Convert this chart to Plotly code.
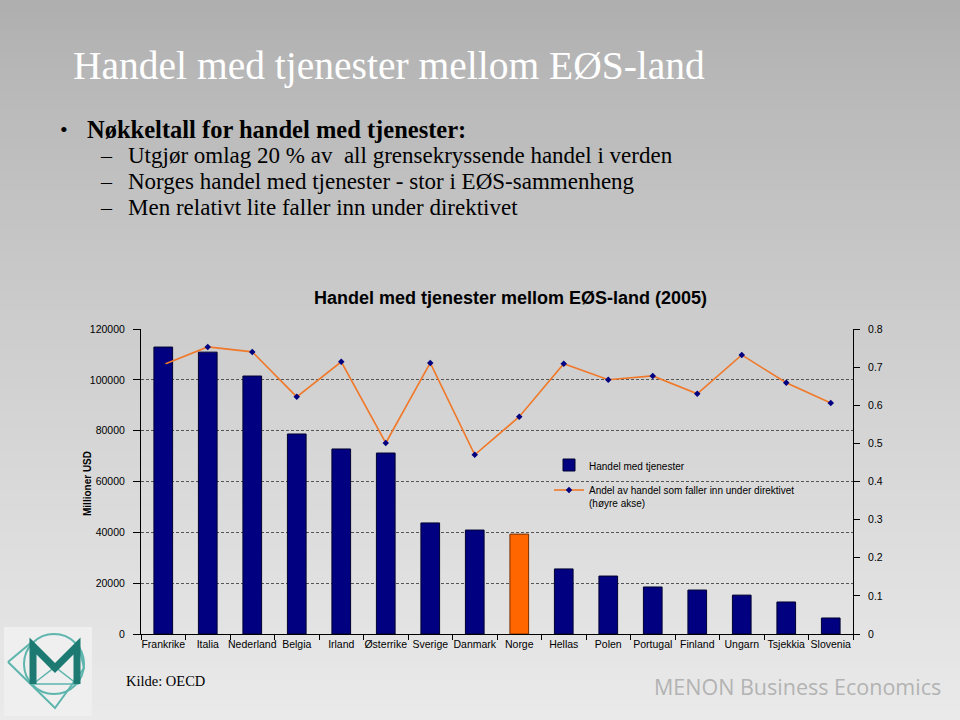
import plotly.graph_objects as go

# ---------------- data ----------------
countries = ["Frankrike", "Italia", "Nederland", "Belgia", "Irland", "Østerrike",
             "Sverige", "Danmark", "Norge", "Hellas", "Polen", "Portugal",
             "Finland", "Ungarn", "Tsjekkia", "Slovenia"]
trade_musd = [112900, 110900, 101500, 78700, 72800, 71200, 43700, 40900, 39300,
              25600, 22800, 18500, 17300, 15300, 12600, 6300]
share_directive = [0.706, 0.753, 0.740, 0.622, 0.714, 0.501, 0.711, 0.470, 0.570,
                   0.709, 0.667, 0.677, 0.630, 0.732, 0.659, 0.606]
left_ticks = [0, 20000, 40000, 60000, 80000, 100000, 120000]
right_ticks = [0, 0.1, 0.2, 0.3, 0.4, 0.5, 0.6, 0.7, 0.8]
right_tick_labels = ["0", "0.1", "0.2", "0.3", "0.4", "0.5", "0.6", "0.7", "0.8"]

# ---------------- geometry helpers ----------------
L, R, T, B = 141, 853, 329, 634
W, H = 960, 720


def px(x):
    return (x - L) / (R - L)


def py(y):
    return (B - y) / (B - T)


bar_colors = ["#FF6600" if c == "Norge" else "#000080" for c in countries]
bar_lines = ["#7a3000" if c == "Norge" else "#000030" for c in countries]

fig = go.Figure()
fig.add_trace(go.Bar(
    x=countries, y=trade_musd, name="Handel med tjenester",
    marker=dict(color=bar_colors, line=dict(color=bar_lines, width=1)),
    width=0.42, yaxis="y", legendgroup="a",
))
fig.add_trace(go.Scatter(
    x=countries, y=share_directive, yaxis="y2", mode="lines+markers",
    name="Andel av handel som faller inn under direktivet<br>(høyre akse)",
    line=dict(color="#F07828", width=1.6),
    marker=dict(symbol="diamond", color="#000080", size=5),
    legendgroup="b",
))

shapes = []
# background gradient
N = 72
for i in range(N):
    y0 = i * H / N
    y1 = (i + 1) * H / N
    t = (i + 0.5) / N
    g = int(round(174 + (234 - 174) * (t ** 0.85)))
    col = f"rgb({g},{g},{g})"
    shapes.append(dict(type="rect", xref="paper", yref="paper",
                       x0=px(0), x1=px(W), y0=py(y1), y1=py(y0) + 0.0001,
                       fillcolor=col, line=dict(width=0), layer="below"))

# logo box
shapes.append(dict(type="rect", xref="paper", yref="paper",
                   x0=px(4), x1=px(92), y0=py(716), y1=py(627),
                   fillcolor="#efefef", line=dict(width=0), layer="below"))
teal = "#1d7a73"
light_teal = "#5db5ad"
shapes.append(dict(type="circle", xref="paper", yref="paper",
                   x0=px(24), x1=px(84), y0=py(694), y1=py(634),
                   line=dict(color=light_teal, width=2)))


def path(points, close=False):
    s = "M " + " L ".join(f"{px(x):.5f},{py(y):.5f}" for x, y in points)
    return s + (" Z" if close else "")


shapes.append(dict(type="path", xref="paper", yref="paper",
                   path=path([(8, 662), (32, 642), (55, 667), (78, 642), (84, 668), (55, 708), (8, 662)]),
                   line=dict(color=light_teal, width=2)))
shapes.append(dict(type="path", xref="paper", yref="paper",
                   path=path([(33, 684), (55, 667), (77, 684), (33, 684)]),
                   line=dict(color=light_teal, width=1.5)))
shapes.append(dict(type="path", xref="paper", yref="paper",
                   path=path([(33, 684), (33, 646), (55, 668), (77, 646), (77, 684)]),
                   line=dict(color=teal, width=7)))

annotations = []


def text(x, y, s, size, color="#000", family="Liberation Sans", xanchor="left",
         yanchor="middle", angle=0):
    annotations.append(dict(x=px(x), y=py(y), xref="paper", yref="paper", text=s,
                            showarrow=False, xanchor=xanchor, yanchor=yanchor,
                            textangle=angle,
                            font=dict(size=size, color=color, family=family)))


serif = "Liberation Serif, Times New Roman, serif"
text(71, 66, "Handel med tjenester mellom EØS-land", 39.5, "#ffffff", serif)
text(58, 130, "•", 22, "#000", serif)
text(85, 130, "<b>Nøkkeltall for handel med tjenester:</b>", 24.5, "#000", serif)
for yy, s in [(156, "Utgjør omlag 20 % av  all grensekryssende handel i verden"),
              (181, "Norges handel med tjenester - stor i EØS-sammenheng"),
              (207, "Men relativt lite faller inn under direktivet")]:
    text(98, yy, "–", 22, "#000", serif)
    text(126, yy, s, 23, "#000", serif)

text(510, 298, "<b>Handel med tjenester mellom EØS-land (2005)</b>", 18, "#000",
     xanchor="center")
text(87, 484, "<b>Millioner USD</b>", 10, "#000",
     family="Liberation Sans Narrow, Liberation Sans, Arial", xanchor="center", angle=-90)
text(124, 681, "Kilde: OECD", 14.5, "#000", serif)
text(652, 686, "MENON Business Economics", 21.5, "#b3b3b3", "Open Sans, sans-serif")

fig.update_layout(
    width=W, height=H, autosize=False,
    margin=dict(l=L, r=W - R, t=T, b=H - B, pad=0),
    paper_bgcolor="#d0d0d0", plot_bgcolor="rgba(0,0,0,0)",
    shapes=shapes, annotations=annotations,
    font=dict(family="Liberation Sans, Arial", size=10, color="#000"),
    showlegend=True,
    legend=dict(x=px(549), y=py(452), xanchor="left", yanchor="top",
                bgcolor="rgba(0,0,0,0)", font=dict(size=10),
                traceorder="grouped", tracegroupgap=6, valign="top",
                itemwidth=30),
    xaxis=dict(type="category", showline=True, linecolor="#000", linewidth=1,
               ticks="outside", ticklen=5, tickcolor="#000", tickson="boundaries",
               tickangle=0, tickfont=dict(size=10.5), showgrid=False,
               range=[-0.5, len(countries) - 0.5]),
    yaxis=dict(range=[0, 120000], tickvals=left_ticks,
               ticktext=[str(v) for v in left_ticks],
               showline=True, linecolor="#000", linewidth=1,
               ticks="outside", ticklen=7, tickcolor="#000",
               ticklabelstandoff=6,
               showgrid=True, gridcolor="#555", griddash="3px,2px", gridwidth=1,
               zeroline=False, tickfont=dict(size=10.5)),
    yaxis2=dict(range=[0, 0.8], overlaying="y", side="right",
                tickvals=right_ticks, ticktext=right_tick_labels,
                showline=True, linecolor="#000", linewidth=1,
                ticks="outside", ticklen=6, tickcolor="#000",
                ticklabelstandoff=6,
                showgrid=False, zeroline=False, tickfont=dict(size=10.5)),
)

fig.write_html("out.html", config={"displayModeBar": False},
               post_script="document.body.style.margin='0';document.body.style.overflow='hidden';")
